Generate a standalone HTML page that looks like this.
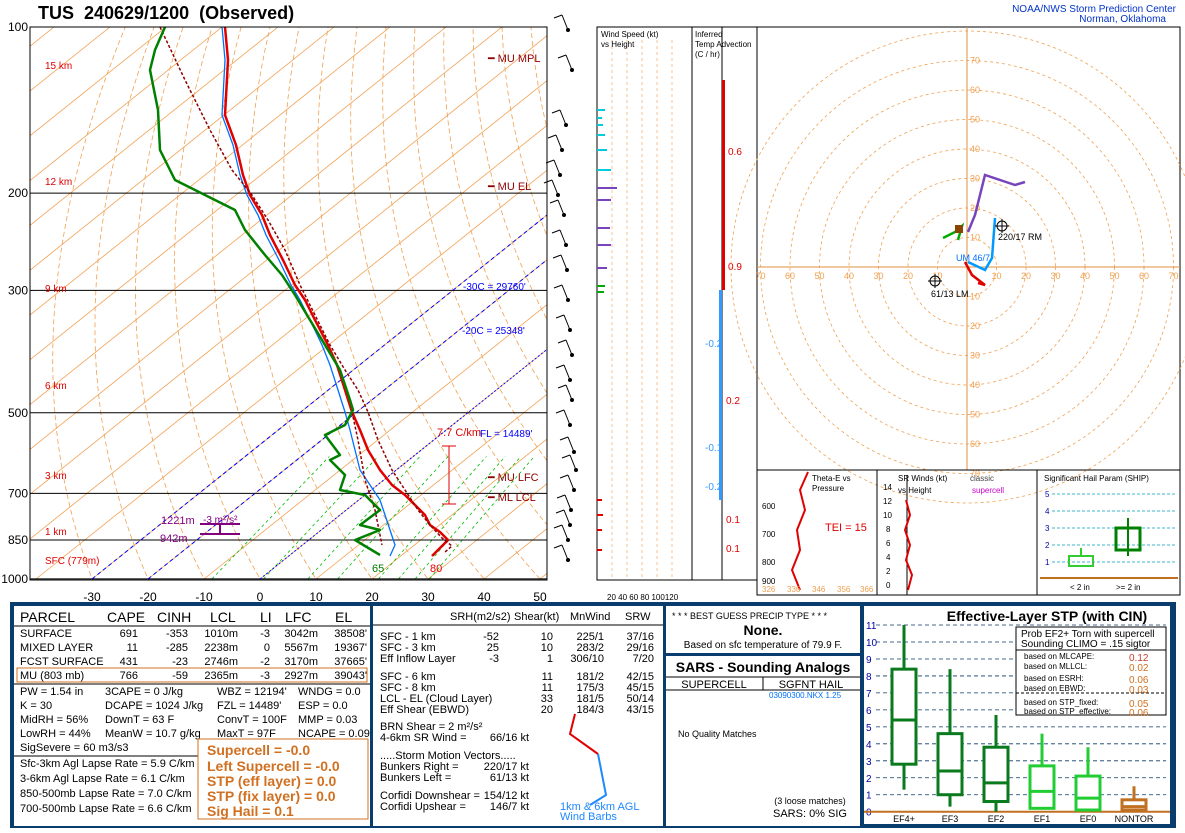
<!DOCTYPE html><html><head><meta charset="utf-8"><style>
body{margin:0;background:#fff;width:1185px;height:828px;overflow:hidden;font-family:"Liberation Sans",sans-serif}
svg text{font-family:"Liberation Sans",sans-serif}
</style></head><body>
<svg id="s" width="1185" height="828" xmlns="http://www.w3.org/2000/svg">
<rect width="1185" height="828" fill="#fff"/>
<text x="38" y="19" font-size="18" font-weight="bold">TUS&#160;&#160;240629/1200&#160;&#160;(Observed)</text>
<text x="1176" y="12" font-size="10" fill="#0033cc" text-anchor="end">NOAA/NWS Storm Prediction Center</text>
<text x="1166" y="22" font-size="10" fill="#0033cc" text-anchor="end">Norman, Oklahoma</text>
<defs><clipPath id="sk"><rect x="30" y="27" width="517" height="553"/></clipPath></defs>
<g id="grid" clip-path="url(#sk)"></g>
<g id="prof" clip-path="url(#sk)" fill="none" stroke-linejoin="round">
<polyline stroke="#0070ff" stroke-width="1.3" points="222,27 225,60 222,115 233,145 240,175 247,195 258,215 266,235 279,260 291,285 300,300 310,320 322,345 330,365 338,390 345,412 350,430 355,450 360,470 370,485 380,500 385,515 390,530 395,545 390,556"/>
<polyline stroke="#e00000" stroke-width="2.5" points="225,27 228,60 225,115 236,145 243,175 250,195 262,215 270,235 283,260 295,285 305,300 315,320 328,345 337,365 345,390 352,412 360,430 368,450 380,470 392,485 405,495 415,505 425,515 430,525 440,532 448,540 440,548 432,556"/>
<polyline stroke="#900000" stroke-width="1.5" stroke-dasharray="3,2" points="160,27 185,80 210,130 232,170 252,195 268,220 285,250 300,285 315,315 330,345 345,370 358,390 368,412 378,440 392,470 405,490 418,510 430,525 442,538 452,546 445,552"/>
<polyline stroke="#900000" stroke-width="1.5" stroke-dasharray="3,2" points="352,412 358,440 365,480 375,510 382,545"/>
<polyline stroke="#008000" stroke-width="2.5" points="165,27 155,50 150,70 158,110 160,150 175,180 205,195 235,210 245,230 265,255 282,275 295,295 310,320 325,345 340,370 350,400 353,410 345,425 325,435 340,455 330,460 345,475 340,490 365,495 380,510 360,525 380,530 355,540 380,555"/>
</g>
<g font-size="10" fill="#e00000">
<text x="45" y="69">15 km</text><text x="45" y="185">12 km</text><text x="45" y="292">9 km</text><text x="45" y="389">6 km</text><text x="45" y="479">3 km</text><text x="45" y="535">1 km</text><text x="45" y="564">SFC (779m)</text></g>
<g font-size="11" fill="#900000"><text x="488" y="62">━ MU MPL</text><text x="488" y="190">━ MU EL</text><text x="488" y="481">━ MU LFC</text><text x="488" y="501">━ ML LCL</text></g>
<g font-size="10" fill="#0000ff"><text x="463" y="290">-30C = 29760'</text><text x="462" y="334">-20C = 25348'</text><text x="480" y="437">FL = 14489'</text></g>
<text x="437" y="436" font-size="11" fill="#e00000">7.7 C/km</text>
<path d="M449,446 V504 M442,446 H456 M442,504 H456" stroke="#e00000" fill="none"/>
<text x="161" y="524" font-size="11" fill="#800080">1221m</text><text x="160" y="542" font-size="11" fill="#800080">942m</text>
<text x="203" y="523" font-size="10" fill="#800080">-3 m²/s²</text>
<path d="M200,524H240 M200,534H240 M220,524V534" stroke="#800080" stroke-width="2"/>
<text x="372" y="572" font-size="11" fill="#008000">65</text><text x="430" y="572" font-size="11" fill="#e00000">80</text>
<rect x="30" y="27" width="517" height="553" fill="none" stroke="#000"/>
<g id="plab" font-size="12" text-anchor="end"></g>
<g id="tlab" font-size="12" text-anchor="middle"></g>
<g stroke="#000" fill="none" id="barbs"></g>
<rect x="597" y="27" width="95" height="553" fill="none" stroke="#000"/>
<g stroke="#f0a050" stroke-dasharray="3,3" stroke-width="0.6"><line x1="612" y1="40" x2="612" y2="580"/><line x1="627" y1="40" x2="627" y2="580"/><line x1="642" y1="40" x2="642" y2="580"/><line x1="657" y1="40" x2="657" y2="580"/><line x1="672" y1="40" x2="672" y2="580"/></g>
<text x="601" y="37" font-size="8">Wind Speed (kt)</text><text x="601" y="47" font-size="8">vs Height</text>
<text x="607" y="600" font-size="8">20 40 60 80 100120</text>
<g stroke-width="2" id="wsbars"></g>
<rect x="692" y="27" width="65" height="553" fill="none" stroke="#000"/>
<text x="695" y="37" font-size="8">Inferred</text><text x="695" y="47" font-size="8">Temp Advection</text><text x="695" y="57" font-size="8">(C / hr)</text>
<line x1="722" y1="27" x2="722" y2="580" stroke="#000"/>
<rect x="722" y="80" width="3" height="210" fill="#e00000"/><rect x="719" y="290" width="3" height="210" fill="#3399ff"/>
<g font-size="10"><text x="728" y="155" fill="#e00000">0.6</text><text x="728" y="270" fill="#e00000">0.9</text><text x="705" y="347" fill="#3399ff">-0.2</text><text x="726" y="404" fill="#e00000">0.2</text><text x="705" y="451" fill="#3399ff">-0.1</text><text x="705" y="490" fill="#3399ff">-0.2</text><text x="726" y="523" fill="#e00000">0.1</text><text x="726" y="552" fill="#e00000">0.1</text></g>
<rect x="757" y="27" width="423" height="443" fill="none" stroke="#000"/>
<g id="hodo"></g>
<polyline fill="none" stroke="#7744bb" stroke-width="2.5" points="1025,182 1015,185 985,175 980,195 975,215 968,232"/>
<polyline fill="none" stroke="#0099ff" stroke-width="2.5" points="995,218 992,258 985,270 968,262"/>
<polyline fill="none" stroke="#e00000" stroke-width="2.5" points="965,262 972,275 985,285 978,283"/>
<polyline fill="none" stroke="#00aa00" stroke-width="2.5" points="943,238 955,232 962,226 958,240"/>
<rect x="955" y="225" width="8" height="8" fill="#884400"/>
<circle cx="1002" cy="226" r="5" fill="none" stroke="#000"/><path d="M995,226h14M1002,219v14" stroke="#000"/>
<circle cx="935" cy="281" r="5" fill="none" stroke="#000"/><path d="M928,281h14M935,274v14" stroke="#000"/>
<text x="998" y="240" font-size="9">220/17 RM</text><text x="931" y="297" font-size="9">61/13 LM</text>
<text x="956" y="261" font-size="9" fill="#0070ff">UM 46/7</text>
<rect x="757" y="470" width="120" height="125" fill="none" stroke="#000"/>
<rect x="877" y="470" width="160" height="125" fill="none" stroke="#000"/>
<rect x="1037" y="470" width="143" height="125" fill="none" stroke="#000"/>
<text x="812" y="481" font-size="8">Theta-E vs</text><text x="812" y="491" font-size="8">Pressure</text>
<g font-size="8"><text x="762" y="509">600</text><text x="762" y="537">700</text><text x="762" y="565">800</text><text x="762" y="584">900</text></g>
<text x="825" y="531" font-size="11" fill="#e00000">TEI = 15</text>
<polyline fill="none" stroke="#e00000" stroke-width="2" points="808,472 800,490 805,510 797,530 800,550 792,570 800,590"/>
<g font-size="8" fill="#f0a050"><text x="762" y="592">326</text><text x="787" y="592">336</text><text x="812" y="592">346</text><text x="837" y="592">356</text><text x="860" y="592">366</text></g>
<text x="898" y="481" font-size="8">SR Winds (kt)</text><text x="898" y="493" font-size="8">vs Height</text>
<text x="970" y="481" font-size="8" fill="#444">classic</text><text x="972" y="493" font-size="8" fill="#cc00cc">supercell</text>
<line x1="907" y1="475" x2="907" y2="595" stroke="#000"/>
<polyline fill="none" stroke="#e00000" stroke-width="2" points="908,590 912,575 906,560 910,545 905,530 910,515 906,500"/>
<g font-size="8"><text x="883" y="490">14</text><text x="883" y="504">12</text><text x="883" y="518">10</text><text x="886" y="532">8</text><text x="886" y="546">6</text><text x="886" y="560">4</text><text x="886" y="574">2</text><text x="886" y="588">0</text></g>
<text x="1044" y="481" font-size="8">Significant Hail Param (SHIP)</text>
<g stroke="#00a0c0" stroke-dasharray="3,2" stroke-width="0.8"><line x1="1052" y1="494" x2="1175" y2="494"/><line x1="1052" y1="511" x2="1175" y2="511"/><line x1="1052" y1="528" x2="1175" y2="528"/><line x1="1052" y1="545" x2="1175" y2="545"/><line x1="1052" y1="562" x2="1175" y2="562"/></g>
<g font-size="8" fill="#0000aa"><text x="1045" y="497">5</text><text x="1045" y="514">4</text><text x="1045" y="531">3</text><text x="1045" y="548">2</text><text x="1045" y="565">1</text></g>
<line x1="1040" y1="578" x2="1178" y2="578" stroke="#c07020" stroke-width="2"/>
<rect x="1069" y="556" width="24" height="10" fill="none" stroke="#33cc33" stroke-width="2"/><line x1="1081" y1="548" x2="1081" y2="556" stroke="#33cc33" stroke-width="2"/>
<rect x="1116" y="528" width="24" height="22" fill="none" stroke="#008000" stroke-width="3"/><line x1="1128" y1="518" x2="1128" y2="556" stroke="#008000" stroke-width="2"/>
<text x="1070" y="590" font-size="8">&lt; 2 in</text><text x="1116" y="590" font-size="8">&gt;= 2 in</text>
<rect x="10" y="602" width="1166" height="226" fill="#083d6e"/>
<rect x="14" y="606" width="356" height="220" fill="#fff"/>
<rect x="373" y="606" width="290" height="220" fill="#fff"/>
<rect x="666" y="606" width="194" height="47" fill="#fff"/>
<rect x="666" y="656" width="194" height="170" fill="#fff"/>
<rect x="864" y="606" width="306" height="218" fill="#fff"/>
<g font-size="14"><text x="20" y="622">PARCEL</text><text x="107" y="622">CAPE</text><text x="157" y="622">CINH</text><text x="210" y="622">LCL</text><text x="260" y="622">LI</text><text x="285" y="622">LFC</text><text x="335" y="622">EL</text></g>
<line x1="14" y1="626" x2="370" y2="626" stroke="#000"/>
<rect x="17" y="668" width="350" height="14" fill="none" stroke="#d07020"/>
<g font-size="11" id="ptab"></g>
<line x1="14" y1="684" x2="370" y2="684" stroke="#000"/>
<g font-size="11">
<text x="20" y="695">PW = 1.54 in</text><text x="105" y="695">3CAPE = 0 J/kg</text><text x="217" y="695">WBZ = 12194'</text><text x="298" y="695">WNDG = 0.0</text>
<text x="20" y="709">K = 30</text><text x="105" y="709">DCAPE = 1024 J/kg</text><text x="217" y="709">FZL = 14489'</text><text x="298" y="709">ESP = 0.0</text>
<text x="20" y="723">MidRH = 56%</text><text x="105" y="723">DownT = 63 F</text><text x="217" y="723">ConvT = 100F</text><text x="298" y="723">MMP = 0.03</text>
<text x="20" y="737">LowRH = 44%</text><text x="105" y="737">MeanW = 10.7 g/kg</text><text x="217" y="737">MaxT = 97F</text><text x="298" y="737">NCAPE = 0.09</text>
<text x="20" y="751">SigSevere = 60 m3/s3</text>
<text x="20" y="767">Sfc-3km Agl Lapse Rate = 5.9 C/km</text>
<text x="20" y="782">3-6km Agl Lapse Rate = 6.1 C/km</text>
<text x="20" y="797">850-500mb Lapse Rate = 7.0 C/km</text>
<text x="20" y="812">700-500mb Lapse Rate = 6.6 C/km</text>
</g>
<line x1="14" y1="756" x2="198" y2="756" stroke="#000"/>
<rect x="198" y="739" width="170" height="80" fill="#fff" stroke="#d07020"/>
<g font-size="14" font-weight="bold" fill="#d07020"><text x="207" y="755">Supercell = -0.0</text><text x="207" y="771">Left Supercell = -0.0</text><text x="207" y="786">STP (eff layer) = 0.0</text><text x="207" y="801">STP (fix layer) = 0.0</text><text x="207" y="816">Sig Hail = 0.1</text></g>
<g font-size="11">
<text x="450" y="620">SRH(m2/s2)</text><text x="514" y="620">Shear(kt)</text><text x="570" y="620">MnWind</text><text x="625" y="620">SRW</text>
</g>
<line x1="373" y1="625" x2="663" y2="625" stroke="#000"/>
<g font-size="11" id="mtab"></g>
<g font-size="11">
<text x="380" y="730">BRN Shear =  2 m²/s²</text><text x="380" y="741">4-6km SR Wind =</text><text x="529" y="741" text-anchor="end">66/16 kt</text>
<text x="380" y="759">.....Storm Motion Vectors.....</text>
<text x="380" y="770">Bunkers Right =</text><text x="529" y="770" text-anchor="end">220/17 kt</text>
<text x="380" y="781">Bunkers Left =</text><text x="529" y="781" text-anchor="end">61/13 kt</text>
<text x="380" y="799">Corfidi Downshear =</text><text x="529" y="799" text-anchor="end">154/12 kt</text>
<text x="380" y="810">Corfidi Upshear =</text><text x="529" y="810" text-anchor="end">146/7 kt</text>
</g>
<polyline fill="none" stroke="#e00000" stroke-width="2" points="575,714 570,734 598,754"/>
<polyline fill="none" stroke="#1e88ff" stroke-width="2" points="598,754 606,795 590,805"/>
<text x="560" y="810" font-size="11" fill="#1e88ff">1km &amp; 6km AGL</text><text x="560" y="820" font-size="11" fill="#1e88ff">Wind Barbs</text>
<text x="672" y="619" font-size="9">* * * BEST GUESS PRECIP TYPE * * *</text>
<text x="763" y="635" font-size="14" font-weight="bold" text-anchor="middle">None.</text>
<text x="763" y="648" font-size="10" text-anchor="middle">Based on sfc temperature of 79.9 F.</text>
<text x="763" y="672" font-size="14" font-weight="bold" text-anchor="middle">SARS - Sounding Analogs</text>
<line x1="666" y1="677" x2="860" y2="677" stroke="#000"/><line x1="763" y1="677" x2="763" y2="690" stroke="#000"/><line x1="666" y1="690" x2="860" y2="690" stroke="#000"/>
<text x="714" y="688" font-size="11" text-anchor="middle">SUPERCELL</text><text x="811" y="688" font-size="11" text-anchor="middle">SGFNT HAIL</text>
<text x="769" y="698" font-size="8" fill="#0070ff">03090300.NKX  1.25</text>
<text x="678" y="737" font-size="9">No Quality Matches</text>
<text x="810" y="804" font-size="9" text-anchor="middle">(3 loose matches)</text>
<text x="810" y="817" font-size="11" text-anchor="middle">SARS: 0% SIG</text>
<text x="1047" y="621" font-size="14" font-weight="bold" text-anchor="middle">Effective-Layer STP (with CIN)</text>
<g id="stp"></g>
<rect x="1016" y="627" width="150" height="88" fill="#fff" stroke="#000"/>
<line x1="1016" y1="650" x2="1166" y2="650" stroke="#000"/><line x1="1016" y1="693" x2="1166" y2="693" stroke="#000" stroke-dasharray="3,2"/>
<text x="1021" y="637" font-size="10">Prob EF2+ Torn with supercell</text><text x="1021" y="647" font-size="10">Sounding CLIMO = .15 sigtor</text>
<g font-size="8"><text x="1024" y="659">based on MLCAPE:</text><text x="1024" y="669">based on MLLCL:</text><text x="1024" y="681">based on ESRH:</text><text x="1024" y="691">based on EBWD:</text><text x="1024" y="705">based on STP_fixed:</text><text x="1024" y="714">based on STP_effective:</text></g>
<g font-size="10" fill="#d07020"><text x="1129" y="661" fill="#c84030">0.12</text><text x="1129" y="671">0.02</text><text x="1129" y="683">0.06</text><text x="1129" y="693">0.03</text><text x="1129" y="707">0.05</text><text x="1129" y="716">0.06</text></g>
</svg>
<script>
var NS="http://www.w3.org/2000/svg";
function el(p,t,a,txt){var e=document.createElementNS(NS,t);for(var k in a)e.setAttribute(k,a[k]);if(txt!=null)e.textContent=txt;document.getElementById(p).appendChild(e);return e;}
function Y(p){return 27+239.7*Math.log(p/100);}
function X(T,y){return 260+5.6*T+1.25*(579-y);}
for(var T=-160;T<=50;T+=10){el("grid","line",{x1:X(T,579),y1:579,x2:X(T,27),y2:27,stroke:"#f0a050","stroke-width":0.8});}
for(var th=-30;th<=200;th+=10){var pts=[];for(var p=1050;p>=100;p-=10){var t=(th+273.15)*Math.pow(p/1000,0.286)-273.15;var y=Y(p);pts.push(X(t,y).toFixed(1)+","+y.toFixed(1));}el("grid","polyline",{points:pts.join(" "),fill:"none",stroke:"#f0a050","stroke-width":0.8,"stroke-dasharray":"5,3"});}
[2,4,7,10,16,20,24,28].forEach(function(w){var pts=[];for(var p=1000;p>=600;p-=20){var e=w*p/(622+w);var l=Math.log(e/6.112);var t=243.5*l/(17.67-l);var y=Y(p);pts.push(X(t,y).toFixed(1)+","+y.toFixed(1));}el("grid","polyline",{points:pts.join(" "),fill:"none",stroke:"#00bb00","stroke-width":0.8,"stroke-dasharray":"3,3"});});
[200,300,500,700,850,1000].forEach(function(p){el("grid","line",{x1:30,x2:547,y1:Y(p),y2:Y(p),stroke:"#000"});});
[100,200,300,500,700,850,1000].forEach(function(p){el("plab","text",{x:28,y:Y(p)+4},p);});
for(var T=-30;T<=50;T+=10){el("tlab","text",{x:260+5.6*T,y:601},T);}
[-20,-30].forEach(function(T){el("grid","line",{x1:X(T,579),y1:579,x2:X(T,27),y2:27,stroke:"#0000ff","stroke-dasharray":"4,3"});});
el("grid","line",{x1:X(0,579),y1:579,x2:X(0,27),y2:27,stroke:"#0000ff","stroke-dasharray":"2,2"});
var bb=[[568,30],[572,70],[566,125],[562,150],[560,175],[558,195],[564,215],[566,245],[567,270],[568,300],[570,330],[572,355],[570,380],[572,400],[570,425],[574,452],[576,470],[574,490],[571,510],[570,525],[568,540],[568,560]];
bb.forEach(function(b){el("barbs","line",{x1:b[0],y1:b[1],x2:b[0]-6,y2:b[1]-15});el("barbs","line",{x1:b[0]-6,y1:b[1]-15,x2:b[0]-14,y2:b[1]-12});el("barbs","circle",{cx:b[0],cy:b[1],r:1.5,fill:"#000"});});
[[110,8,"#00ccdd"],[118,5,"#00ccdd"],[125,6,"#00ccdd"],[135,8,"#00ccdd"],[150,10,"#00ccdd"],[170,14,"#00ccdd"],[188,20,"#7744bb"],[200,14,"#7744bb"],[228,13,"#7744bb"],[245,14,"#7744bb"],[268,10,"#7744bb"],[286,8,"#00aa00"],[292,7,"#00aa00"],[500,5,"#e00000"],[515,6,"#e00000"],[530,5,"#e00000"],[550,5,"#e00000"]].forEach(function(b){el("wsbars","line",{x1:597,x2:597+b[1],y1:b[0],y2:b[0],stroke:b[2]});});
var cx=967,cy=267,r=29.5;
for(var i=1;i<=8;i++)el("hodo","circle",{cx:cx,cy:cy,r:i*r,fill:"none",stroke:"#f0a050","stroke-dasharray":"3,3","stroke-width":0.8});
el("hodo","line",{x1:757,x2:1180,y1:cy,y2:cy,stroke:"#e09040"});el("hodo","line",{x1:cx,x2:cx,y1:27,y2:470,stroke:"#e09040"});
for(var i=1;i<=7;i++){el("hodo","text",{x:cx+3,y:cy-i*r+3,"font-size":9,fill:"#f0a050"},i*10);el("hodo","text",{x:cx+3,y:cy+i*r+3,"font-size":9,fill:"#f0a050"},i*10);el("hodo","text",{x:cx+i*r-5,y:cy+12,"font-size":9,fill:"#f0a050"},i*10);el("hodo","text",{x:cx-i*r-5,y:cy+12,"font-size":9,fill:"#f0a050"},i*10);}
var pr=[["SURFACE","691","-353","1010m","-3","3042m","38508'"],["MIXED LAYER","11","-285","2238m","0","5567m","19367'"],["FCST SURFACE","431","-23","2746m","-2","3170m","37665'"],["MU (803 mb)","766","-59","2365m","-3","2927m","39043'"]];
var pxs=[[20,"start"],[138,"end"],[188,"end"],[238,"end"],[270,"end"],[318,"end"],[367,"end"]];
pr.forEach(function(r,i){r.forEach(function(v,j){el("ptab","text",{x:pxs[j][0],y:637+i*14,"text-anchor":pxs[j][1]},v);});});
var mr=[[640,"SFC - 1 km","-52","10","225/1","37/16"],[651,"SFC - 3 km","25","10","283/2","29/16"],[662,"Eff Inflow Layer","-3","1","306/10","7/20"],[680,"SFC - 6 km","","11","181/2","42/15"],[691,"SFC - 8 km","","11","175/3","45/15"],[702,"LCL - EL (Cloud Layer)","","33","181/5","50/14"],[713,"Eff Shear (EBWD)","","20","184/3","43/15"]];
mr.forEach(function(r){el("mtab","text",{x:380,y:r[0]},r[1]);el("mtab","text",{x:499,y:r[0],"text-anchor":"end"},r[2]);el("mtab","text",{x:553,y:r[0],"text-anchor":"end"},r[3]);el("mtab","text",{x:604,y:r[0],"text-anchor":"end"},r[4]);el("mtab","text",{x:654,y:r[0],"text-anchor":"end"},r[5]);});
function SY(v){return 811.7-16.97*v;}
for(var v=0;v<=11;v++){el("stp","text",{x:866,y:SY(v)+4,"font-size":10,fill:"#0000aa"},v);if(v>0)el("stp","line",{x1:876,x2:1166,y1:SY(v),y2:SY(v),stroke:"#0a3a6a","stroke-dasharray":"4,3","stroke-width":0.8});}
el("stp","line",{x1:864,x2:1170,y1:SY(0),y2:SY(0),stroke:"#c07020","stroke-width":2});
var bx=[[904,1.3,2.8,5.4,8.4,11,"#0a7a1e","EF4+"],[950,0.3,1,2.4,4.6,8.4,"#0a7a1e","EF3"],[996,0,0.6,1.7,3.8,5.7,"#0a7a1e","EF2"],[1042,0.2,0.2,1.2,2.7,4.6,"#22cc33","EF1"],[1088,0,0.1,0.8,2.1,3.8,"#22cc33","EF0"],[1134,0,0.1,0.3,0.7,1.5,"#c07020","NONTOR"]];
bx.forEach(function(b){var c=b[6];el("stp","line",{x1:b[0],x2:b[0],y1:SY(b[1]),y2:SY(b[5]),stroke:c,"stroke-width":3});el("stp","rect",{x:b[0]-12,y:SY(b[4]),width:24,height:SY(b[2])-SY(b[4]),fill:"#fff",stroke:c,"stroke-width":3});el("stp","line",{x1:b[0]-12,x2:b[0]+12,y1:SY(b[3]),y2:SY(b[3]),stroke:c,"stroke-width":3});el("stp","text",{x:b[0],y:822,"font-size":9,"text-anchor":"middle"},b[7]);});
</script>
</body></html>
